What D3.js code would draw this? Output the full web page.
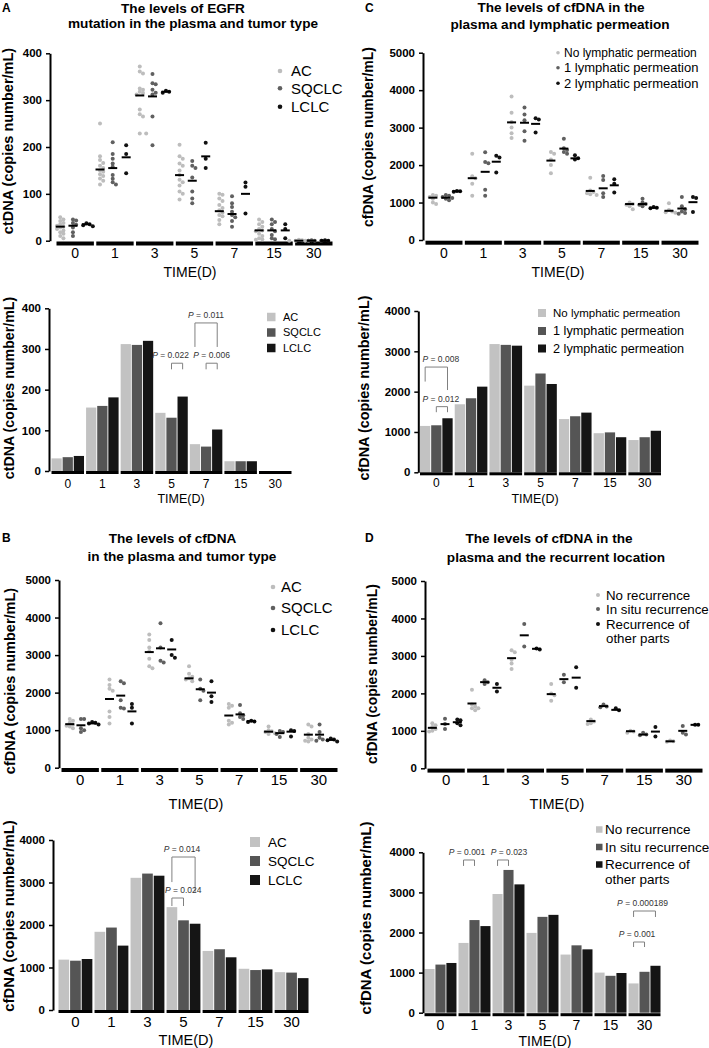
<!DOCTYPE html>
<html>
<head>
<meta charset="utf-8">
<script src="https://cdn.jsdelivr.net/npm/d3@7"></script>
<style>
  body { margin: 0; background: #fff; }
  svg { display: block; }
</style>
</head>
<body>
<svg id="mainsvg" width="709" height="1048"></svg>
<script>
// ---------- categories ----------
const days = ['0', '1', '3', '5', '7', '15', '30'];
const tumorTypes = ['AC', 'SQCLC', 'LCLC'];
const lymphTypes = ['No lymphatic permeation', '1 lymphatic permeation', '2 lymphatic permeation'];
const recurTypes = ['No recurrence', 'In situ recurrence', 'Recurrence of other parts'];
const recurLegend = ['No recurrence', 'In situ recurrence', ['Recurrence of', 'other parts']];

// ---------- A: EGFR mutation (ctDNA) per patient, one list per day ----------
const egfrPtsAC = [
  [50, 45, 42, 38, 35, 32, 30, 28, 25, 22, 18, 15, 10, 5],
  [250, 180, 172, 166, 160, 155, 150, 147, 142, 138, 133, 128, 120],
  [372, 361, 357, 325, 322, 318, 315, 312, 280, 270, 265, 229, 229],
  [205, 180, 175, 165, 160, 150, 140, 130, 125, 118, 105, 100, 88],
  [100, 98, 90, 85, 76, 70, 65, 60, 55, 52, 44, 35],
  [45, 40, 35, 30, 25, 22, 20, 15, 10, 5, 3, 2],
  [2, 1, 0, 0, 0, 0]
];
const egfrPtsSQ = [
  [45, 43, 38, 34, 28, 18, 10],
  [210, 185, 175, 165, 158, 140, 132, 125, 120],
  [356, 336, 334, 322, 316, 312, 265, 204],
  [170, 160, 155, 135, 105, 90, 80],
  [95, 80, 72, 62, 55, 50, 42, 30],
  [45, 40, 35, 25, 20, 12, 5, 3],
  [1, 0, 0, 0]
];
const egfrPtsLC = [
  [37, 35, 33, 31],
  [204, 185, 144],
  [320, 318, 316],
  [209, 175, 155],
  [124, 115, 58],
  [35, 25, 5],
  [1, 0, 0]
];
const egfrMeanAC = [30, 152, 310, 140, 63, 22, 0];
const egfrMeanSQ = [32, 155, 308, 128, 57, 22, 0];
const egfrMeanLC = [35, 178, 318, 180, 100, 22, 0];
const egfrBarAC = [31, 156, 312, 143, 66, 24, 0];
const egfrBarSQ = [34, 160, 310, 131, 60, 24, 0];
const egfrBarLC = [37, 181, 320, 183, 102, 24, 0];
const egfrBarP = [
  { day: '5', from: 1, to: 2, p: '0.022', top: 265, legFrom: 250, legTo: 250 },
  { day: '7', from: 1, to: 2, p: '0.006', top: 265, legFrom: 250, legTo: 250 },
  { day: '7', from: 0, to: 2, p: '0.011', top: 364, legFrom: 305, legTo: 305 }
];

// ---------- C: cfDNA and lymphatic permeation ----------
const lymPts0 = [
  [1200, 1180, 1150, 1100, 1000, 960],
  [2300, 1700, 1650, 1500, 1180],
  [3830, 3400, 3150, 3000, 2850, 2720],
  [2350, 2300, 2150, 2000, 1780],
  [1660, 1320, 1280, 1250, 1220, 1200],
  [1000, 960, 940, 900, 820],
  [980, 800, 760, 740, 730]
];
const lymPts1 = [
  [1200, 1180, 1150, 1120, 1100, 1060],
  [2340, 2080, 2050, 1340, 1180],
  [3540, 3350, 3200, 2900, 2650],
  [2700, 2450, 2400, 2350, 2300],
  [1710, 1600, 1250, 1150],
  [1100, 1000, 960, 940, 900],
  [1150, 900, 820, 760, 720, 700]
];
const lymPts2 = [
  [1310, 1300, 1290],
  [2250, 2200, 1800],
  [3250, 3220, 2870],
  [2260, 2180, 2150],
  [1620, 1500, 1270],
  [880, 860, 850],
  [1150, 1120, 750]
];
const lymMean0 = [1130, 1650, 3140, 2120, 1310, 960, 780];
const lymMean1 = [1130, 1820, 3130, 2440, 1380, 960, 840];
const lymMean2 = [1300, 2090, 3100, 2180, 1460, 860, 1010];
const lymBar0 = [1150, 1687, 3180, 2149, 1320, 970, 800];
const lymBar1 = [1166, 1836, 3160, 2450, 1390, 990, 870];
const lymBar2 = [1340, 2124, 3140, 2190, 1480, 870, 1030];
const lymBarP = [
  { day: '0', from: 0, to: 2, p: '0.008', top: 2610, legFrom: 2250, legTo: 2040 },
  { day: '0', from: 1, to: 2, p: '0.012', top: 1628, legFrom: 1490, legTo: 1490 }
];

// ---------- B: cfDNA and tumor type ----------
const cfPtsAC = [
  [1300, 1250, 1200, 1150, 1120, 1100, 1050],
  [2350, 2200, 2100, 2050, 1500, 1350, 1180],
  [3550, 3400, 3200, 3100, 2900, 2700, 2650],
  [2700, 2500, 2420, 2380, 2350, 2300],
  [1700, 1650, 1600, 1250, 1200, 1150],
  [1100, 1000, 970, 950, 920, 900],
  [1150, 1100, 900, 800, 750, 720, 700]
];
const cfPtsSQ = [
  [1300, 1300, 1050, 1000, 950],
  [2300, 2250, 1800, 1600, 1580],
  [3850, 3200, 2850, 2800],
  [2350, 2100, 2050, 1800],
  [1670, 1450, 1400, 1350, 1300],
  [980, 950, 900, 820],
  [1150, 950, 800, 750, 720]
];
const cfPtsLC = [
  [1220, 1200, 1180, 1150],
  [1700, 1600, 1180],
  [3400, 3000, 2930],
  [2300, 1900, 1750],
  [1250, 1230, 1220],
  [1000, 980, 830],
  [780, 750, 730, 700]
];
const cfMeanAC = [1160, 1830, 3080, 2380, 1390, 960, 880];
const cfMeanSQ = [1130, 1920, 3180, 2090, 1420, 920, 880];
const cfMeanLC = [1180, 1500, 3150, 2000, 1240, 960, 740];
const cfBarAC = [1185, 1840, 3110, 2420, 1390, 970, 890];
const cfBarSQ = [1160, 1940, 3210, 2110, 1430, 940, 880];
const cfBarLC = [1200, 1515, 3160, 2030, 1240, 955, 750];
const cfBarP = [
  { day: '5', from: 0, to: 2, p: '0.014', top: 3600, legFrom: 3010, legTo: 2780 },
  { day: '5', from: 0, to: 1, p: '0.024', top: 2635, legFrom: 2447, legTo: 2447 }
];

// ---------- D: cfDNA and recurrent location ----------
const recPts0 = [
  [1200, 1150, 1100, 1050, 1000, 980],
  [2100, 1700, 1650, 1600, 1600, 1550],
  [3150, 3100, 2900, 2800, 2650],
  [2250, 2000, 1950, 1800],
  [1300, 1250, 1200, 1180],
  [1000, 980, 950],
  [740, 720, 710]
];
const recPts1 = [
  [1320, 1180, 1050],
  [2350, 2300, 2250],
  [3850, 3250],
  [2500, 2300],
  [1700, 1650, 1630],
  [950, 900, 880],
  [1130, 950, 900]
];
const recPts2 = [
  [1300, 1280, 1200, 1150],
  [2250, 2050],
  [3200, 3170],
  [2700, 2150],
  [1600, 1550],
  [1100, 850],
  [1160, 1160]
];
const recMean0 = [1080, 1730, 2940, 1980, 1260, 990, 720];
const recMean1 = [1180, 2300, 3550, 2380, 1660, 900, 1000];
const recMean2 = [1230, 2150, 3190, 2420, 1560, 980, 1160];
const recBar0 = [1090, 1740, 2960, 1990, 1450, 1000, 730];
const recBar1 = [1200, 2310, 3560, 2390, 1680, 920, 1020];
const recBar2 = [1240, 2160, 3200, 2440, 1580, 990, 1170];
const recBarP = [
  { day: '1', from: 0, to: 1, p: '0.001', top: 3808, legFrom: 3660, legTo: 3660 },
  { day: '3', from: 0, to: 1, p: '0.023', top: 3808, legFrom: 3660, legTo: 3660 },
  { day: '30', from: 0, to: 2, p: '0.000189', top: 2536, legFrom: 2387, legTo: 2387 },
  { day: '30', from: 0, to: 1, p: '0.001', top: 1763, legFrom: 1638, legTo: 1638 }
];

const ticks400 = [0, 100, 200, 300, 400];
const ticks4000 = [0, 1000, 2000, 3000, 4000];
const ticks5000 = [0, 1000, 2000, 3000, 4000, 5000];

// ---------- drawing ----------
const svg = d3.select('#mainsvg');
const FONT = '"Liberation Sans", Arial, Helvetica, sans-serif';
const dotColors = ['#bdbdbd', '#606060', '#111111'];
const barColors = ['#c2c2c2', '#555555', '#151515'];

// axes, group underlines, titles
function frame(g, cfg, x, y) {
  const yAxis = d3.axisLeft(y).tickValues(cfg.yTicks).tickFormat(d3.format('d'))
    .tickSize(4).tickSizeOuter(0).tickPadding(4);
  const ya = g.append('g').attr('transform', `translate(${cfg.axisX},0)`).call(yAxis);
  ya.select('.domain').attr('stroke-width', 2);
  ya.selectAll('.tick line').attr('stroke-width', 1.5);
  ya.selectAll('.tick text')
    .attr('font-weight', 'bold').attr('font-size', 11.5)
    .attr('font-family', FONT).attr('fill', '#000');

  g.selectAll(null).data(days).join('rect')
    .attr('x', d => x(d)).attr('width', x.bandwidth())
    .attr('y', y(0) + cfg.segOff).attr('height', cfg.segH)
    .attr('fill', '#000');

  const xAxis = d3.axisBottom(x).tickSize(0).tickPadding(0);
  const xa = g.append('g')
    .attr('transform', `translate(0,${cfg.tickBase - 0.71 * cfg.tickFs})`)
    .call(xAxis);
  xa.select('.domain').remove();
  xa.selectAll('text').attr('font-size', cfg.tickFs).attr('font-family', FONT).attr('fill', '#000');

  g.append('text').text('TIME(D)')
    .attr('x', cfg.xTitle.x).attr('y', cfg.xTitle.y)
    .attr('text-anchor', 'middle').attr('font-family', FONT)
    .attr('font-size', cfg.xTitle.fs);

  g.append('text').text(cfg.yTitle.text)
    .attr('transform', `translate(${cfg.yTitle.x},${cfg.yTitle.y}) rotate(-90)`)
    .attr('text-anchor', 'middle').attr('font-family', FONT)
    .attr('font-weight', 'bold').attr('font-size', cfg.yTitle.fs);

  if (cfg.titles) {
    cfg.titles.forEach(t => {
      g.append('text').text(t.t).attr('x', t.x).attr('y', t.y)
        .attr('text-anchor', 'middle').attr('font-family', FONT)
        .attr('font-weight', 'bold').attr('font-size', 13.6);
    });
  }
  if (cfg.letter) {
    g.append('text').text(cfg.letter.t).attr('x', cfg.letter.x).attr('y', cfg.letter.y)
      .attr('font-family', FONT).attr('font-weight', 'bold').attr('font-size', 12);
  }
}

// simple beeswarm so dots with close values sit side by side
function swarm(values, cx, y, r) {
  const placed = [];
  const pts = values.map(v => ({ v: v, y: y(v) })).sort((a, b) => a.y - b.y);
  const step = r * 1.6;
  pts.forEach(p => {
    p.x = cx;
    for (let k = 0; k < 40; k++) {
      const off = k === 0 ? 0 : (k % 2 ? 1 : -1) * Math.ceil(k / 2) * step;
      const xx = cx + off;
      if (placed.every(q => (q.x - xx) ** 2 + (q.y - p.y) ** 2 >= (r * 1.6) ** 2)) {
        p.x = xx;
        break;
      }
    }
    placed.push(p);
  });
  return placed;
}

function legendText(g, label, x, y, fs) {
  const lines = Array.isArray(label) ? label : [label];
  const t = g.append('text').attr('x', x).attr('y', y)
    .attr('font-family', FONT).attr('font-size', fs);
  lines.forEach((ln, i) => {
    t.append('tspan').attr('x', x).attr('dy', i === 0 ? '0.35em' : '1.08em').text(ln);
  });
}

function scatterPanel(cfg) {
  const g = svg.append('g');
  const x = d3.scaleBand().domain(days).range(cfg.xRange).paddingInner(0.06);
  const y = d3.scaleLinear().domain([0, cfg.yMax]).range(cfg.yRange);
  frame(g, cfg, x, y);

  const colX = (s, i) => x(days[i]) + cfg.cols[s] * x.bandwidth();
  cfg.points.forEach((ser, s) => {
    ser.forEach((vals, i) => {
      const pts = swarm(vals, colX(s, i), y, 2);
      g.selectAll(null).data(pts).join('circle')
        .attr('cx', d => d.x).attr('cy', d => d.y).attr('r', 2)
        .attr('fill', dotColors[s]);
    });
  });
  cfg.means.forEach((ser, s) => {
    g.selectAll(null).data(ser).join('line')
      .attr('x1', (d, i) => colX(s, i) - 4.5)
      .attr('x2', (d, i) => colX(s, i) + 4.5)
      .attr('y1', d => y(d)).attr('y2', d => y(d))
      .attr('stroke', '#000').attr('stroke-width', 2);
  });

  const L = cfg.legend;
  L.labels.forEach((lab, s) => {
    g.append('circle').attr('cx', L.x).attr('cy', L.ys[s]).attr('r', L.r).attr('fill', dotColors[s]);
    legendText(g, lab, L.tx, L.ys[s], Array.isArray(L.fs) ? L.fs[s] : L.fs);
  });
}

function barPanel(cfg) {
  const g = svg.append('g');
  const x = d3.scaleBand().domain(days).range(cfg.xRange).paddingInner(0.06);
  const xi = d3.scaleBand().domain([0, 1, 2]).range([0, x.bandwidth()]).paddingInner(0.08);
  const y = d3.scaleLinear().domain([0, cfg.yMax]).range(cfg.yRange);

  cfg.series.forEach((vals, s) => {
    g.selectAll(null).data(vals).join('rect')
      .attr('x', (d, i) => x(days[i]) + xi(s))
      .attr('y', d => y(d))
      .attr('width', xi.bandwidth())
      .attr('height', d => y(0) - y(d))
      .attr('fill', barColors[s]);
  });
  frame(g, cfg, x, y);

  // significance brackets
  cfg.pvals.forEach((a, k) => {
    const xa = x(a.day) + xi(a.from) + xi.bandwidth() / 2;
    const xb = x(a.day) + xi(a.to) + xi.bandwidth() / 2;
    g.append('path')
      .attr('d', `M${xa},${y(a.legFrom)}V${y(a.top)}H${xb}V${y(a.legTo)}`)
      .attr('fill', 'none').attr('stroke', '#808080').attr('stroke-width', 1);
    const t = g.append('text')
      .attr('x', (xa + xb) / 2 + (cfg.pdx ? cfg.pdx[k] : 0)).attr('y', y(a.top) - 5)
      .attr('text-anchor', 'middle').attr('font-family', FONT)
      .attr('font-size', 8.5).attr('fill', '#333');
    t.append('tspan').attr('font-style', 'italic').text('P');
    t.append('tspan').text(' = ' + a.p);
  });

  const L = cfg.legend;
  L.labels.forEach((lab, s) => {
    g.append('rect')
      .attr('x', L.x).attr('y', L.ys[s] - L.sq / 2)
      .attr('width', L.sq).attr('height', L.sq)
      .attr('fill', barColors[s]);
    legendText(g, lab, L.tx, L.ys[s], Array.isArray(L.fs) ? L.fs[s] : L.fs);
  });
}

// ---------- panel A ----------
scatterPanel({
  yMax: 400, yTicks: ticks400, axisX: 50,
  xRange: [56.5, 332.5], yRange: [240.7, 53.3],
  segOff: 0.8, segH: 4, tickBase: 258, tickFs: 14,
  cols: [0.1, 0.44, 0.8],
  points: [egfrPtsAC, egfrPtsSQ, egfrPtsLC],
  means: [egfrMeanAC, egfrMeanSQ, egfrMeanLC],
  xTitle: { x: 190, y: 277, fs: 14 },
  yTitle: { x: 13, y: 141, fs: 14.5, text: 'ctDNA (copies number/mL)' },
  titles: [
    { t: 'The levels of EGFR', x: 183, y: 12.5 },
    { t: 'mutation in the plasma and tumor type', x: 193, y: 27.7 }
  ],
  letter: { t: 'A', x: 2, y: 12 },
  legend: { x: 280, tx: 291, ys: [71, 88.3, 106.7], fs: 15, r: 2.3, labels: tumorTypes }
});
barPanel({
  yMax: 400, yTicks: ticks400, axisX: 49,
  xRange: [51.5, 291.5], yRange: [471, 308.3],
  segOff: 0, segH: 3, tickBase: 488, tickFs: 12,
  series: [egfrBarAC, egfrBarSQ, egfrBarLC],
  pvals: egfrBarP, pdx: [-6.5, 0, 0],
  xTitle: { x: 181, y: 503, fs: 12.5 },
  yTitle: { x: 13.5, y: 388, fs: 14.2, text: 'ctDNA (copies number/mL)' },
  legend: { x: 267, sq: 8.5, tx: 283, ys: [317, 332.5, 348], fs: 11, labels: tumorTypes }
});

// ---------- panel C ----------
scatterPanel({
  yMax: 5000, yTicks: ticks5000, axisX: 423,
  xRange: [425.5, 698.5], yRange: [240, 52.7],
  segOff: 0.7, segH: 4, tickBase: 258, tickFs: 14,
  cols: [0.2, 0.55, 0.85],
  points: [lymPts0, lymPts1, lymPts2],
  means: [lymMean0, lymMean1, lymMean2],
  xTitle: { x: 558, y: 277, fs: 14 },
  yTitle: { x: 373, y: 137, fs: 14, text: 'cfDNA (copies number/mL)' },
  titles: [
    { t: 'The levels of cfDNA in the', x: 561, y: 12.3 },
    { t: 'plasma and lymphatic permeation', x: 560, y: 29 }
  ],
  letter: { t: 'C', x: 365, y: 12 },
  legend: { x: 558, tx: 564, ys: [52.7, 67.7, 83.3], fs: [12, 13, 13], r: 1.8, labels: lymphTypes }
});
barPanel({
  yMax: 4000, yTicks: ticks4000, axisX: 418.3,
  xRange: [420, 661], yRange: [472.3, 311],
  segOff: 0, segH: 3, tickBase: 487, tickFs: 12,
  series: [lymBar0, lymBar1, lymBar2],
  pvals: lymBarP, pdx: [4.5, -1],
  xTitle: { x: 535, y: 503, fs: 12.5 },
  yTitle: { x: 369, y: 388, fs: 14.4, text: 'cfDNA (copies number/mL)' },
  legend: { x: 538, sq: 8, tx: 553, ys: [313, 331, 348.5], fs: [11.5, 12.7, 12.7], labels: lymphTypes }
});

// ---------- panel B ----------
scatterPanel({
  yMax: 5000, yTicks: ticks5000, axisX: 59,
  xRange: [61.5, 337.5], yRange: [767.7, 580],
  segOff: 0.3, segH: 4, tickBase: 785, tickFs: 15,
  cols: [0.22, 0.52, 0.82],
  points: [cfPtsAC, cfPtsSQ, cfPtsLC],
  means: [cfMeanAC, cfMeanSQ, cfMeanLC],
  xTitle: { x: 196, y: 809, fs: 14.5 },
  yTitle: { x: 15, y: 681, fs: 14.5, text: 'cfDNA (copies number/mL)' },
  titles: [
    { t: 'The levels of cfDNA', x: 172.5, y: 542.7 },
    { t: 'in the plasma and tumor type', x: 182, y: 560.7 }
  ],
  letter: { t: 'B', x: 2, y: 542 },
  legend: { x: 273, tx: 281, ys: [587, 608, 630], fs: 15, r: 2.3, labels: tumorTypes }
});
barPanel({
  yMax: 4000, yTicks: ticks4000, axisX: 53,
  xRange: [58.5, 308.5], yRange: [1010, 840],
  segOff: 0, segH: 3, tickBase: 1027, tickFs: 15,
  series: [cfBarAC, cfBarSQ, cfBarLC],
  pvals: cfBarP, pdx: [-1.5, 5.5],
  xTitle: { x: 186, y: 1045, fs: 14.5 },
  yTitle: { x: 14, y: 916, fs: 14.9, text: 'cfDNA (copies number/mL)' },
  legend: { x: 250, sq: 10, tx: 268, ys: [842, 861, 880], fs: 13.5, labels: tumorTypes }
});

// ---------- panel D ----------
scatterPanel({
  yMax: 5000, yTicks: ticks5000, axisX: 425,
  xRange: [427.5, 702.5], yRange: [768.3, 581],
  segOff: 0.3, segH: 4, tickBase: 785, tickFs: 15,
  cols: [0.13, 0.47, 0.8],
  points: [recPts0, recPts1, recPts2],
  means: [recMean0, recMean1, recMean2],
  xTitle: { x: 557, y: 809, fs: 14.5 },
  yTitle: { x: 377, y: 674, fs: 14, text: 'cfDNA (copies number/mL)' },
  titles: [
    { t: 'The levels of cfDNA in the', x: 549, y: 543 },
    { t: 'plasma and the recurrent location', x: 556, y: 561.7 }
  ],
  letter: { t: 'D', x: 365, y: 542 },
  legend: { x: 598, tx: 606, ys: [595, 609, 624], fs: 13.3, r: 2, labels: recurLegend }
});
barPanel({
  yMax: 4000, yTicks: ticks4000, axisX: 423,
  xRange: [424.5, 660.5], yRange: [1012.7, 852.3],
  segOff: 0.5, segH: 3, tickBase: 1030, tickFs: 14,
  series: [recBar0, recBar1, recBar2],
  pvals: recBarP, pdx: [-2, 6, -2, -2],
  xTitle: { x: 545, y: 1046, fs: 14 },
  yTitle: { x: 371, y: 918, fs: 15, text: 'cfDNA (copies number/mL)' },
  legend: { x: 596, sq: 6.5, tx: 605, ys: [829.5, 847, 864.5], fs: 13.5, labels: recurLegend }
});
</script>
</body>
</html>
